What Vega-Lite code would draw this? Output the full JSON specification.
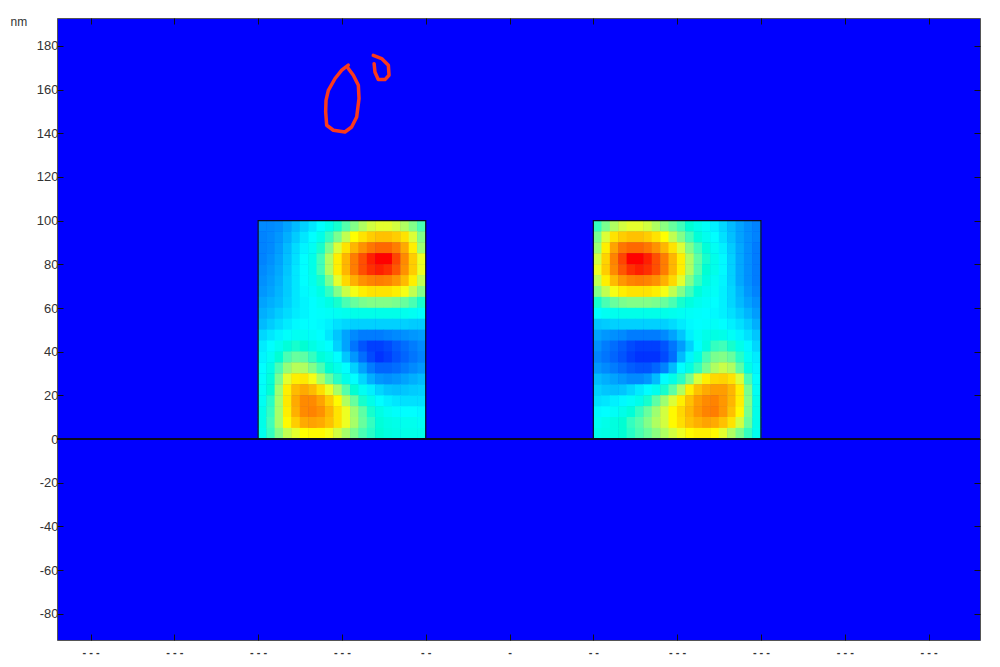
{"$schema":"https://vega.github.io/schema/vega-lite/v6.json","width":923,"height":622,"autosize":"none","padding":{"left":57,"top":18,"right":20,"bottom":27},"background":"#ffffff","view":{"fill":"#0000ff","stroke":"#555555","strokeWidth":1},"resolve":{"axis":{"x":"independent","y":"independent"}},"layer":[{"data":{"values":[
{"x":-147.5,"y":97.5,"v":12},{"x":-142.5,"y":97.5,"v":12},{"x":-137.5,"y":97.5,"v":13},{"x":-132.5,"y":97.5,"v":16},{"x":-127.5,"y":97.5,"v":20},{"x":-122.5,"y":97.5,"v":24},{"x":-117.5,"y":97.5,"v":28},{"x":-112.5,"y":97.5,"v":33},{"x":-107.5,"y":97.5,"v":38},{"x":-102.5,"y":97.5,"v":43},{"x":-97.5,"y":97.5,"v":48},{"x":-92.5,"y":97.5,"v":53},{"x":-87.5,"y":97.5,"v":58},{"x":-82.5,"y":97.5,"v":62},{"x":-77.5,"y":97.5,"v":64},{"x":-72.5,"y":97.5,"v":64},{"x":-67.5,"y":97.5,"v":62},{"x":-62.5,"y":97.5,"v":58},{"x":-57.5,"y":97.5,"v":53},{"x":-52.5,"y":97.5,"v":47},
{"x":-147.5,"y":92.5,"v":11},{"x":-142.5,"y":92.5,"v":12},{"x":-137.5,"y":92.5,"v":14},{"x":-132.5,"y":92.5,"v":18},{"x":-127.5,"y":92.5,"v":23},{"x":-122.5,"y":92.5,"v":28},{"x":-117.5,"y":92.5,"v":33},{"x":-112.5,"y":92.5,"v":38},{"x":-107.5,"y":92.5,"v":45},{"x":-102.5,"y":92.5,"v":52},{"x":-97.5,"y":92.5,"v":60},{"x":-92.5,"y":92.5,"v":67},{"x":-87.5,"y":92.5,"v":72},{"x":-82.5,"y":92.5,"v":76},{"x":-77.5,"y":92.5,"v":78},{"x":-72.5,"y":92.5,"v":78},{"x":-67.5,"y":92.5,"v":76},{"x":-62.5,"y":92.5,"v":72},{"x":-57.5,"y":92.5,"v":63},{"x":-52.5,"y":92.5,"v":53},
{"x":-147.5,"y":87.5,"v":11},{"x":-142.5,"y":87.5,"v":12},{"x":-137.5,"y":87.5,"v":15},{"x":-132.5,"y":87.5,"v":20},{"x":-127.5,"y":87.5,"v":26},{"x":-122.5,"y":87.5,"v":31},{"x":-117.5,"y":87.5,"v":36},{"x":-112.5,"y":87.5,"v":43},{"x":-107.5,"y":87.5,"v":52},{"x":-102.5,"y":87.5,"v":63},{"x":-97.5,"y":87.5,"v":72},{"x":-92.5,"y":87.5,"v":80},{"x":-87.5,"y":87.5,"v":86},{"x":-82.5,"y":87.5,"v":90},{"x":-77.5,"y":87.5,"v":92},{"x":-72.5,"y":87.5,"v":92},{"x":-67.5,"y":87.5,"v":89},{"x":-62.5,"y":87.5,"v":82},{"x":-57.5,"y":87.5,"v":70},{"x":-52.5,"y":87.5,"v":56},
{"x":-147.5,"y":82.5,"v":11},{"x":-142.5,"y":82.5,"v":13},{"x":-137.5,"y":82.5,"v":16},{"x":-132.5,"y":82.5,"v":21},{"x":-127.5,"y":82.5,"v":27},{"x":-122.5,"y":82.5,"v":33},{"x":-117.5,"y":82.5,"v":38},{"x":-112.5,"y":82.5,"v":46},{"x":-107.5,"y":82.5,"v":58},{"x":-102.5,"y":82.5,"v":70},{"x":-97.5,"y":82.5,"v":80},{"x":-92.5,"y":82.5,"v":89},{"x":-87.5,"y":82.5,"v":95},{"x":-82.5,"y":82.5,"v":99},{"x":-77.5,"y":82.5,"v":100},{"x":-72.5,"y":82.5,"v":100},{"x":-67.5,"y":82.5,"v":96},{"x":-62.5,"y":82.5,"v":87},{"x":-57.5,"y":82.5,"v":76},{"x":-52.5,"y":82.5,"v":65},
{"x":-147.5,"y":77.5,"v":12},{"x":-142.5,"y":77.5,"v":14},{"x":-137.5,"y":77.5,"v":17},{"x":-132.5,"y":77.5,"v":22},{"x":-127.5,"y":77.5,"v":28},{"x":-122.5,"y":77.5,"v":33},{"x":-117.5,"y":77.5,"v":38},{"x":-112.5,"y":77.5,"v":46},{"x":-107.5,"y":77.5,"v":58},{"x":-102.5,"y":77.5,"v":70},{"x":-97.5,"y":77.5,"v":80},{"x":-92.5,"y":77.5,"v":89},{"x":-87.5,"y":77.5,"v":95},{"x":-82.5,"y":77.5,"v":98},{"x":-77.5,"y":77.5,"v":99},{"x":-72.5,"y":77.5,"v":98},{"x":-67.5,"y":77.5,"v":94},{"x":-62.5,"y":77.5,"v":86},{"x":-57.5,"y":77.5,"v":76},{"x":-52.5,"y":77.5,"v":65},
{"x":-147.5,"y":72.5,"v":13},{"x":-142.5,"y":72.5,"v":15},{"x":-137.5,"y":72.5,"v":18},{"x":-132.5,"y":72.5,"v":23},{"x":-127.5,"y":72.5,"v":28},{"x":-122.5,"y":72.5,"v":33},{"x":-117.5,"y":72.5,"v":37},{"x":-112.5,"y":72.5,"v":43},{"x":-107.5,"y":72.5,"v":52},{"x":-102.5,"y":72.5,"v":64},{"x":-97.5,"y":72.5,"v":74},{"x":-92.5,"y":72.5,"v":81},{"x":-87.5,"y":72.5,"v":86},{"x":-82.5,"y":72.5,"v":88},{"x":-77.5,"y":72.5,"v":89},{"x":-72.5,"y":72.5,"v":88},{"x":-67.5,"y":72.5,"v":85},{"x":-62.5,"y":72.5,"v":79},{"x":-57.5,"y":72.5,"v":70},{"x":-52.5,"y":72.5,"v":60},
{"x":-147.5,"y":67.5,"v":14},{"x":-142.5,"y":67.5,"v":16},{"x":-137.5,"y":67.5,"v":19},{"x":-132.5,"y":67.5,"v":23},{"x":-127.5,"y":67.5,"v":28},{"x":-122.5,"y":67.5,"v":32},{"x":-117.5,"y":67.5,"v":35},{"x":-112.5,"y":67.5,"v":39},{"x":-107.5,"y":67.5,"v":45},{"x":-102.5,"y":67.5,"v":53},{"x":-97.5,"y":67.5,"v":61},{"x":-92.5,"y":67.5,"v":66},{"x":-87.5,"y":67.5,"v":70},{"x":-82.5,"y":67.5,"v":72},{"x":-77.5,"y":67.5,"v":72},{"x":-72.5,"y":67.5,"v":72},{"x":-67.5,"y":67.5,"v":70},{"x":-62.5,"y":67.5,"v":66},{"x":-57.5,"y":67.5,"v":60},{"x":-52.5,"y":67.5,"v":53},
{"x":-147.5,"y":62.5,"v":16},{"x":-142.5,"y":62.5,"v":18},{"x":-137.5,"y":62.5,"v":20},{"x":-132.5,"y":62.5,"v":24},{"x":-127.5,"y":62.5,"v":28},{"x":-122.5,"y":62.5,"v":31},{"x":-117.5,"y":62.5,"v":33},{"x":-112.5,"y":62.5,"v":36},{"x":-107.5,"y":62.5,"v":39},{"x":-102.5,"y":62.5,"v":43},{"x":-97.5,"y":62.5,"v":47},{"x":-92.5,"y":62.5,"v":50},{"x":-87.5,"y":62.5,"v":52},{"x":-82.5,"y":62.5,"v":53},{"x":-77.5,"y":62.5,"v":53},{"x":-72.5,"y":62.5,"v":53},{"x":-67.5,"y":62.5,"v":52},{"x":-62.5,"y":62.5,"v":50},{"x":-57.5,"y":62.5,"v":47},{"x":-52.5,"y":62.5,"v":43},
{"x":-147.5,"y":57.5,"v":18},{"x":-142.5,"y":57.5,"v":20},{"x":-137.5,"y":57.5,"v":23},{"x":-132.5,"y":57.5,"v":26},{"x":-127.5,"y":57.5,"v":29},{"x":-122.5,"y":57.5,"v":31},{"x":-117.5,"y":57.5,"v":33},{"x":-112.5,"y":57.5,"v":34},{"x":-107.5,"y":57.5,"v":35},{"x":-102.5,"y":57.5,"v":36},{"x":-97.5,"y":57.5,"v":37},{"x":-92.5,"y":57.5,"v":38},{"x":-87.5,"y":57.5,"v":38},{"x":-82.5,"y":57.5,"v":38},{"x":-77.5,"y":57.5,"v":38},{"x":-72.5,"y":57.5,"v":38},{"x":-67.5,"y":57.5,"v":38},{"x":-62.5,"y":57.5,"v":37},{"x":-57.5,"y":57.5,"v":36},{"x":-52.5,"y":57.5,"v":34},
{"x":-147.5,"y":52.5,"v":20},{"x":-142.5,"y":52.5,"v":23},{"x":-137.5,"y":52.5,"v":26},{"x":-132.5,"y":52.5,"v":29},{"x":-127.5,"y":52.5,"v":32},{"x":-122.5,"y":52.5,"v":33},{"x":-117.5,"y":52.5,"v":33},{"x":-112.5,"y":52.5,"v":32},{"x":-107.5,"y":52.5,"v":30},{"x":-102.5,"y":52.5,"v":27},{"x":-97.5,"y":52.5,"v":25},{"x":-92.5,"y":52.5,"v":24},{"x":-87.5,"y":52.5,"v":24},{"x":-82.5,"y":52.5,"v":24},{"x":-77.5,"y":52.5,"v":24},{"x":-72.5,"y":52.5,"v":24},{"x":-67.5,"y":52.5,"v":24},{"x":-62.5,"y":52.5,"v":24},{"x":-57.5,"y":52.5,"v":23},{"x":-52.5,"y":52.5,"v":23},
{"x":-147.5,"y":47.5,"v":25},{"x":-142.5,"y":47.5,"v":28},{"x":-137.5,"y":47.5,"v":31},{"x":-132.5,"y":47.5,"v":34},{"x":-127.5,"y":47.5,"v":36},{"x":-122.5,"y":47.5,"v":36},{"x":-117.5,"y":47.5,"v":35},{"x":-112.5,"y":47.5,"v":33},{"x":-107.5,"y":47.5,"v":28},{"x":-102.5,"y":47.5,"v":22},{"x":-97.5,"y":47.5,"v":16},{"x":-92.5,"y":47.5,"v":12},{"x":-87.5,"y":47.5,"v":10},{"x":-82.5,"y":47.5,"v":10},{"x":-77.5,"y":47.5,"v":10},{"x":-72.5,"y":47.5,"v":11},{"x":-67.5,"y":47.5,"v":12},{"x":-62.5,"y":47.5,"v":13},{"x":-57.5,"y":47.5,"v":14},{"x":-52.5,"y":47.5,"v":15},
{"x":-147.5,"y":42.5,"v":29},{"x":-142.5,"y":42.5,"v":33},{"x":-137.5,"y":42.5,"v":37},{"x":-132.5,"y":42.5,"v":41},{"x":-127.5,"y":42.5,"v":43},{"x":-122.5,"y":42.5,"v":42},{"x":-117.5,"y":42.5,"v":39},{"x":-112.5,"y":42.5,"v":36},{"x":-107.5,"y":42.5,"v":33},{"x":-102.5,"y":42.5,"v":24},{"x":-97.5,"y":42.5,"v":16},{"x":-92.5,"y":42.5,"v":9},{"x":-87.5,"y":42.5,"v":5},{"x":-82.5,"y":42.5,"v":3},{"x":-77.5,"y":42.5,"v":3},{"x":-72.5,"y":42.5,"v":4},{"x":-67.5,"y":42.5,"v":6},{"x":-62.5,"y":42.5,"v":8},{"x":-57.5,"y":42.5,"v":10},{"x":-52.5,"y":42.5,"v":12},
{"x":-147.5,"y":37.5,"v":31},{"x":-142.5,"y":37.5,"v":36},{"x":-137.5,"y":37.5,"v":42},{"x":-132.5,"y":37.5,"v":47},{"x":-127.5,"y":37.5,"v":50},{"x":-122.5,"y":37.5,"v":49},{"x":-117.5,"y":37.5,"v":45},{"x":-112.5,"y":37.5,"v":41},{"x":-107.5,"y":37.5,"v":38},{"x":-102.5,"y":37.5,"v":33},{"x":-97.5,"y":37.5,"v":22},{"x":-92.5,"y":37.5,"v":14},{"x":-87.5,"y":37.5,"v":8},{"x":-82.5,"y":37.5,"v":4},{"x":-77.5,"y":37.5,"v":2},{"x":-72.5,"y":37.5,"v":3},{"x":-67.5,"y":37.5,"v":5},{"x":-62.5,"y":37.5,"v":7},{"x":-57.5,"y":37.5,"v":9},{"x":-52.5,"y":37.5,"v":11},
{"x":-147.5,"y":32.5,"v":33},{"x":-142.5,"y":32.5,"v":39},{"x":-137.5,"y":32.5,"v":47},{"x":-132.5,"y":32.5,"v":55},{"x":-127.5,"y":32.5,"v":59},{"x":-122.5,"y":32.5,"v":58},{"x":-117.5,"y":32.5,"v":53},{"x":-112.5,"y":32.5,"v":47},{"x":-107.5,"y":32.5,"v":42},{"x":-102.5,"y":32.5,"v":38},{"x":-97.5,"y":32.5,"v":33},{"x":-92.5,"y":32.5,"v":24},{"x":-87.5,"y":32.5,"v":16},{"x":-82.5,"y":32.5,"v":10},{"x":-77.5,"y":32.5,"v":7},{"x":-72.5,"y":32.5,"v":7},{"x":-67.5,"y":32.5,"v":8},{"x":-62.5,"y":32.5,"v":10},{"x":-57.5,"y":32.5,"v":12},{"x":-52.5,"y":32.5,"v":14},
{"x":-147.5,"y":27.5,"v":34},{"x":-142.5,"y":27.5,"v":41},{"x":-137.5,"y":27.5,"v":52},{"x":-132.5,"y":27.5,"v":64},{"x":-127.5,"y":27.5,"v":70},{"x":-122.5,"y":27.5,"v":71},{"x":-117.5,"y":27.5,"v":66},{"x":-112.5,"y":27.5,"v":58},{"x":-107.5,"y":27.5,"v":50},{"x":-102.5,"y":27.5,"v":44},{"x":-97.5,"y":27.5,"v":38},{"x":-92.5,"y":27.5,"v":33},{"x":-87.5,"y":27.5,"v":25},{"x":-82.5,"y":27.5,"v":18},{"x":-77.5,"y":27.5,"v":14},{"x":-72.5,"y":27.5,"v":13},{"x":-67.5,"y":27.5,"v":14},{"x":-62.5,"y":27.5,"v":16},{"x":-57.5,"y":27.5,"v":18},{"x":-52.5,"y":27.5,"v":20},
{"x":-147.5,"y":22.5,"v":35},{"x":-142.5,"y":22.5,"v":42},{"x":-137.5,"y":22.5,"v":56},{"x":-132.5,"y":22.5,"v":70},{"x":-127.5,"y":22.5,"v":79},{"x":-122.5,"y":22.5,"v":82},{"x":-117.5,"y":22.5,"v":79},{"x":-112.5,"y":22.5,"v":73},{"x":-107.5,"y":22.5,"v":65},{"x":-102.5,"y":22.5,"v":57},{"x":-97.5,"y":22.5,"v":48},{"x":-92.5,"y":22.5,"v":42},{"x":-87.5,"y":22.5,"v":36},{"x":-82.5,"y":22.5,"v":30},{"x":-77.5,"y":22.5,"v":25},{"x":-72.5,"y":22.5,"v":22},{"x":-67.5,"y":22.5,"v":21},{"x":-62.5,"y":22.5,"v":22},{"x":-57.5,"y":22.5,"v":23},{"x":-52.5,"y":22.5,"v":24},
{"x":-147.5,"y":17.5,"v":36},{"x":-142.5,"y":17.5,"v":44},{"x":-137.5,"y":17.5,"v":57},{"x":-132.5,"y":17.5,"v":71},{"x":-127.5,"y":17.5,"v":82},{"x":-122.5,"y":17.5,"v":87},{"x":-117.5,"y":17.5,"v":87},{"x":-112.5,"y":17.5,"v":83},{"x":-107.5,"y":17.5,"v":76},{"x":-102.5,"y":17.5,"v":68},{"x":-97.5,"y":17.5,"v":58},{"x":-92.5,"y":17.5,"v":50},{"x":-87.5,"y":17.5,"v":43},{"x":-82.5,"y":17.5,"v":38},{"x":-77.5,"y":17.5,"v":33},{"x":-72.5,"y":17.5,"v":30},{"x":-67.5,"y":17.5,"v":28},{"x":-62.5,"y":17.5,"v":27},{"x":-57.5,"y":17.5,"v":27},{"x":-52.5,"y":17.5,"v":27},
{"x":-147.5,"y":12.5,"v":38},{"x":-142.5,"y":12.5,"v":45},{"x":-137.5,"y":12.5,"v":57},{"x":-132.5,"y":12.5,"v":70},{"x":-127.5,"y":12.5,"v":81},{"x":-122.5,"y":12.5,"v":87},{"x":-117.5,"y":12.5,"v":88},{"x":-112.5,"y":12.5,"v":86},{"x":-107.5,"y":12.5,"v":80},{"x":-102.5,"y":12.5,"v":72},{"x":-97.5,"y":12.5,"v":65},{"x":-92.5,"y":12.5,"v":56},{"x":-87.5,"y":12.5,"v":49},{"x":-82.5,"y":12.5,"v":43},{"x":-77.5,"y":12.5,"v":39},{"x":-72.5,"y":12.5,"v":36},{"x":-67.5,"y":12.5,"v":34},{"x":-62.5,"y":12.5,"v":33},{"x":-57.5,"y":12.5,"v":33},{"x":-52.5,"y":12.5,"v":32},
{"x":-147.5,"y":7.5,"v":38},{"x":-142.5,"y":7.5,"v":46},{"x":-137.5,"y":7.5,"v":57},{"x":-132.5,"y":7.5,"v":68},{"x":-127.5,"y":7.5,"v":76},{"x":-122.5,"y":7.5,"v":82},{"x":-117.5,"y":7.5,"v":83},{"x":-112.5,"y":7.5,"v":82},{"x":-107.5,"y":7.5,"v":78},{"x":-102.5,"y":7.5,"v":72},{"x":-97.5,"y":7.5,"v":65},{"x":-92.5,"y":7.5,"v":57},{"x":-87.5,"y":7.5,"v":50},{"x":-82.5,"y":7.5,"v":45},{"x":-77.5,"y":7.5,"v":41},{"x":-72.5,"y":7.5,"v":39},{"x":-67.5,"y":7.5,"v":38},{"x":-62.5,"y":7.5,"v":37},{"x":-57.5,"y":7.5,"v":37},{"x":-52.5,"y":7.5,"v":36},
{"x":-147.5,"y":2.5,"v":37},{"x":-142.5,"y":2.5,"v":45},{"x":-137.5,"y":2.5,"v":53},{"x":-132.5,"y":2.5,"v":60},{"x":-127.5,"y":2.5,"v":64},{"x":-122.5,"y":2.5,"v":67},{"x":-117.5,"y":2.5,"v":68},{"x":-112.5,"y":2.5,"v":68},{"x":-107.5,"y":2.5,"v":66},{"x":-102.5,"y":2.5,"v":62},{"x":-97.5,"y":2.5,"v":57},{"x":-92.5,"y":2.5,"v":52},{"x":-87.5,"y":2.5,"v":47},{"x":-82.5,"y":2.5,"v":44},{"x":-77.5,"y":2.5,"v":42},{"x":-72.5,"y":2.5,"v":40},{"x":-67.5,"y":2.5,"v":39},{"x":-62.5,"y":2.5,"v":38},{"x":-57.5,"y":2.5,"v":38},{"x":-52.5,"y":2.5,"v":38},
{"x":52.5,"y":97.5,"v":45},{"x":57.5,"y":97.5,"v":52},{"x":62.5,"y":97.5,"v":58},{"x":67.5,"y":97.5,"v":62},{"x":72.5,"y":97.5,"v":64},{"x":77.5,"y":97.5,"v":64},{"x":82.5,"y":97.5,"v":62},{"x":87.5,"y":97.5,"v":58},{"x":92.5,"y":97.5,"v":54},{"x":97.5,"y":97.5,"v":50},{"x":102.5,"y":97.5,"v":46},{"x":107.5,"y":97.5,"v":42},{"x":112.5,"y":97.5,"v":38},{"x":117.5,"y":97.5,"v":35},{"x":122.5,"y":97.5,"v":30},{"x":127.5,"y":97.5,"v":25},{"x":132.5,"y":97.5,"v":20},{"x":137.5,"y":97.5,"v":16},{"x":142.5,"y":97.5,"v":13},{"x":147.5,"y":97.5,"v":11},
{"x":52.5,"y":92.5,"v":52},{"x":57.5,"y":92.5,"v":63},{"x":62.5,"y":92.5,"v":72},{"x":67.5,"y":92.5,"v":76},{"x":72.5,"y":92.5,"v":78},{"x":77.5,"y":92.5,"v":78},{"x":82.5,"y":92.5,"v":76},{"x":87.5,"y":92.5,"v":72},{"x":92.5,"y":92.5,"v":67},{"x":97.5,"y":92.5,"v":60},{"x":102.5,"y":92.5,"v":53},{"x":107.5,"y":92.5,"v":46},{"x":112.5,"y":92.5,"v":41},{"x":117.5,"y":92.5,"v":37},{"x":122.5,"y":92.5,"v":33},{"x":127.5,"y":92.5,"v":27},{"x":132.5,"y":92.5,"v":21},{"x":137.5,"y":92.5,"v":16},{"x":142.5,"y":92.5,"v":13},{"x":147.5,"y":92.5,"v":11},
{"x":52.5,"y":87.5,"v":56},{"x":57.5,"y":87.5,"v":70},{"x":62.5,"y":87.5,"v":83},{"x":67.5,"y":87.5,"v":90},{"x":72.5,"y":87.5,"v":92},{"x":77.5,"y":87.5,"v":92},{"x":82.5,"y":87.5,"v":90},{"x":87.5,"y":87.5,"v":86},{"x":92.5,"y":87.5,"v":80},{"x":97.5,"y":87.5,"v":72},{"x":102.5,"y":87.5,"v":63},{"x":107.5,"y":87.5,"v":53},{"x":112.5,"y":87.5,"v":46},{"x":117.5,"y":87.5,"v":41},{"x":122.5,"y":87.5,"v":36},{"x":127.5,"y":87.5,"v":30},{"x":132.5,"y":87.5,"v":23},{"x":137.5,"y":87.5,"v":17},{"x":142.5,"y":87.5,"v":13},{"x":147.5,"y":87.5,"v":10},
{"x":52.5,"y":82.5,"v":62},{"x":57.5,"y":82.5,"v":75},{"x":62.5,"y":82.5,"v":88},{"x":67.5,"y":82.5,"v":96},{"x":72.5,"y":82.5,"v":100},{"x":77.5,"y":82.5,"v":100},{"x":82.5,"y":82.5,"v":99},{"x":87.5,"y":82.5,"v":95},{"x":92.5,"y":82.5,"v":89},{"x":97.5,"y":82.5,"v":80},{"x":102.5,"y":82.5,"v":70},{"x":107.5,"y":82.5,"v":58},{"x":112.5,"y":82.5,"v":49},{"x":117.5,"y":82.5,"v":43},{"x":122.5,"y":82.5,"v":38},{"x":127.5,"y":82.5,"v":32},{"x":132.5,"y":82.5,"v":24},{"x":137.5,"y":82.5,"v":17},{"x":142.5,"y":82.5,"v":13},{"x":147.5,"y":82.5,"v":10},
{"x":52.5,"y":77.5,"v":65},{"x":57.5,"y":77.5,"v":76},{"x":62.5,"y":77.5,"v":87},{"x":67.5,"y":77.5,"v":94},{"x":72.5,"y":77.5,"v":98},{"x":77.5,"y":77.5,"v":99},{"x":82.5,"y":77.5,"v":98},{"x":87.5,"y":77.5,"v":95},{"x":92.5,"y":77.5,"v":89},{"x":97.5,"y":77.5,"v":80},{"x":102.5,"y":77.5,"v":70},{"x":107.5,"y":77.5,"v":58},{"x":112.5,"y":77.5,"v":48},{"x":117.5,"y":77.5,"v":42},{"x":122.5,"y":77.5,"v":38},{"x":127.5,"y":77.5,"v":32},{"x":132.5,"y":77.5,"v":24},{"x":137.5,"y":77.5,"v":17},{"x":142.5,"y":77.5,"v":13},{"x":147.5,"y":77.5,"v":10},
{"x":52.5,"y":72.5,"v":60},{"x":57.5,"y":72.5,"v":70},{"x":62.5,"y":72.5,"v":79},{"x":67.5,"y":72.5,"v":85},{"x":72.5,"y":72.5,"v":88},{"x":77.5,"y":72.5,"v":89},{"x":82.5,"y":72.5,"v":88},{"x":87.5,"y":72.5,"v":86},{"x":92.5,"y":72.5,"v":81},{"x":97.5,"y":72.5,"v":74},{"x":102.5,"y":72.5,"v":64},{"x":107.5,"y":72.5,"v":53},{"x":112.5,"y":72.5,"v":45},{"x":117.5,"y":72.5,"v":40},{"x":122.5,"y":72.5,"v":36},{"x":127.5,"y":72.5,"v":31},{"x":132.5,"y":72.5,"v":24},{"x":137.5,"y":72.5,"v":17},{"x":142.5,"y":72.5,"v":13},{"x":147.5,"y":72.5,"v":10},
{"x":52.5,"y":67.5,"v":53},{"x":57.5,"y":67.5,"v":60},{"x":62.5,"y":67.5,"v":66},{"x":67.5,"y":67.5,"v":70},{"x":72.5,"y":67.5,"v":72},{"x":77.5,"y":67.5,"v":72},{"x":82.5,"y":67.5,"v":72},{"x":87.5,"y":67.5,"v":70},{"x":92.5,"y":67.5,"v":66},{"x":97.5,"y":67.5,"v":60},{"x":102.5,"y":67.5,"v":53},{"x":107.5,"y":67.5,"v":46},{"x":112.5,"y":67.5,"v":41},{"x":117.5,"y":67.5,"v":37},{"x":122.5,"y":67.5,"v":35},{"x":127.5,"y":67.5,"v":30},{"x":132.5,"y":67.5,"v":25},{"x":137.5,"y":67.5,"v":19},{"x":142.5,"y":67.5,"v":14},{"x":147.5,"y":67.5,"v":11},
{"x":52.5,"y":62.5,"v":43},{"x":57.5,"y":62.5,"v":47},{"x":62.5,"y":62.5,"v":50},{"x":67.5,"y":62.5,"v":52},{"x":72.5,"y":62.5,"v":53},{"x":77.5,"y":62.5,"v":53},{"x":82.5,"y":62.5,"v":53},{"x":87.5,"y":62.5,"v":52},{"x":92.5,"y":62.5,"v":50},{"x":97.5,"y":62.5,"v":47},{"x":102.5,"y":62.5,"v":43},{"x":107.5,"y":62.5,"v":40},{"x":112.5,"y":62.5,"v":37},{"x":117.5,"y":62.5,"v":35},{"x":122.5,"y":62.5,"v":33},{"x":127.5,"y":62.5,"v":30},{"x":132.5,"y":62.5,"v":25},{"x":137.5,"y":62.5,"v":20},{"x":142.5,"y":62.5,"v":16},{"x":147.5,"y":62.5,"v":13},
{"x":52.5,"y":57.5,"v":33},{"x":57.5,"y":57.5,"v":36},{"x":62.5,"y":57.5,"v":37},{"x":67.5,"y":57.5,"v":38},{"x":72.5,"y":57.5,"v":38},{"x":77.5,"y":57.5,"v":38},{"x":82.5,"y":57.5,"v":38},{"x":87.5,"y":57.5,"v":38},{"x":92.5,"y":57.5,"v":38},{"x":97.5,"y":57.5,"v":37},{"x":102.5,"y":57.5,"v":36},{"x":107.5,"y":57.5,"v":35},{"x":112.5,"y":57.5,"v":34},{"x":117.5,"y":57.5,"v":33},{"x":122.5,"y":57.5,"v":32},{"x":127.5,"y":57.5,"v":30},{"x":132.5,"y":57.5,"v":27},{"x":137.5,"y":57.5,"v":23},{"x":142.5,"y":57.5,"v":19},{"x":147.5,"y":57.5,"v":15},
{"x":52.5,"y":52.5,"v":22},{"x":57.5,"y":52.5,"v":23},{"x":62.5,"y":52.5,"v":24},{"x":67.5,"y":52.5,"v":24},{"x":72.5,"y":52.5,"v":24},{"x":77.5,"y":52.5,"v":24},{"x":82.5,"y":52.5,"v":24},{"x":87.5,"y":52.5,"v":24},{"x":92.5,"y":52.5,"v":24},{"x":97.5,"y":52.5,"v":26},{"x":102.5,"y":52.5,"v":29},{"x":107.5,"y":52.5,"v":32},{"x":112.5,"y":52.5,"v":33},{"x":117.5,"y":52.5,"v":34},{"x":122.5,"y":52.5,"v":35},{"x":127.5,"y":52.5,"v":33},{"x":132.5,"y":52.5,"v":30},{"x":137.5,"y":52.5,"v":27},{"x":142.5,"y":52.5,"v":23},{"x":147.5,"y":52.5,"v":18},
{"x":52.5,"y":47.5,"v":16},{"x":57.5,"y":47.5,"v":14},{"x":62.5,"y":47.5,"v":13},{"x":67.5,"y":47.5,"v":12},{"x":72.5,"y":47.5,"v":10},{"x":77.5,"y":47.5,"v":10},{"x":82.5,"y":47.5,"v":10},{"x":87.5,"y":47.5,"v":10},{"x":92.5,"y":47.5,"v":12},{"x":97.5,"y":47.5,"v":16},{"x":102.5,"y":47.5,"v":22},{"x":107.5,"y":47.5,"v":30},{"x":112.5,"y":47.5,"v":35},{"x":117.5,"y":47.5,"v":38},{"x":122.5,"y":47.5,"v":39},{"x":127.5,"y":47.5,"v":38},{"x":132.5,"y":47.5,"v":35},{"x":137.5,"y":47.5,"v":31},{"x":142.5,"y":47.5,"v":27},{"x":147.5,"y":47.5,"v":22},
{"x":52.5,"y":42.5,"v":13},{"x":57.5,"y":42.5,"v":10},{"x":62.5,"y":42.5,"v":8},{"x":67.5,"y":42.5,"v":6},{"x":72.5,"y":42.5,"v":4},{"x":77.5,"y":42.5,"v":3},{"x":82.5,"y":42.5,"v":3},{"x":87.5,"y":42.5,"v":3},{"x":92.5,"y":42.5,"v":5},{"x":97.5,"y":42.5,"v":9},{"x":102.5,"y":42.5,"v":15},{"x":107.5,"y":42.5,"v":24},{"x":112.5,"y":42.5,"v":33},{"x":117.5,"y":42.5,"v":40},{"x":122.5,"y":42.5,"v":45},{"x":127.5,"y":42.5,"v":46},{"x":132.5,"y":42.5,"v":43},{"x":137.5,"y":42.5,"v":38},{"x":142.5,"y":42.5,"v":32},{"x":147.5,"y":42.5,"v":25},
{"x":52.5,"y":37.5,"v":11},{"x":57.5,"y":37.5,"v":9},{"x":62.5,"y":37.5,"v":7},{"x":67.5,"y":37.5,"v":5},{"x":72.5,"y":37.5,"v":3},{"x":77.5,"y":37.5,"v":2},{"x":82.5,"y":37.5,"v":2},{"x":87.5,"y":37.5,"v":2},{"x":92.5,"y":37.5,"v":4},{"x":97.5,"y":37.5,"v":8},{"x":102.5,"y":37.5,"v":20},{"x":107.5,"y":37.5,"v":31},{"x":112.5,"y":37.5,"v":39},{"x":117.5,"y":37.5,"v":47},{"x":122.5,"y":37.5,"v":52},{"x":127.5,"y":37.5,"v":53},{"x":132.5,"y":37.5,"v":50},{"x":137.5,"y":37.5,"v":44},{"x":142.5,"y":37.5,"v":36},{"x":147.5,"y":37.5,"v":29},
{"x":52.5,"y":32.5,"v":14},{"x":57.5,"y":32.5,"v":12},{"x":62.5,"y":32.5,"v":10},{"x":67.5,"y":32.5,"v":8},{"x":72.5,"y":32.5,"v":6},{"x":77.5,"y":32.5,"v":5},{"x":82.5,"y":32.5,"v":5},{"x":87.5,"y":32.5,"v":7},{"x":92.5,"y":32.5,"v":11},{"x":97.5,"y":32.5,"v":20},{"x":102.5,"y":32.5,"v":33},{"x":107.5,"y":32.5,"v":39},{"x":112.5,"y":32.5,"v":45},{"x":117.5,"y":32.5,"v":52},{"x":122.5,"y":32.5,"v":58},{"x":127.5,"y":32.5,"v":61},{"x":132.5,"y":32.5,"v":58},{"x":137.5,"y":32.5,"v":49},{"x":142.5,"y":32.5,"v":39},{"x":147.5,"y":32.5,"v":31},
{"x":52.5,"y":27.5,"v":20},{"x":57.5,"y":27.5,"v":18},{"x":62.5,"y":27.5,"v":16},{"x":67.5,"y":27.5,"v":14},{"x":72.5,"y":27.5,"v":12},{"x":77.5,"y":27.5,"v":12},{"x":82.5,"y":27.5,"v":14},{"x":87.5,"y":27.5,"v":20},{"x":92.5,"y":27.5,"v":33},{"x":97.5,"y":27.5,"v":38},{"x":102.5,"y":27.5,"v":44},{"x":107.5,"y":27.5,"v":52},{"x":112.5,"y":27.5,"v":63},{"x":117.5,"y":27.5,"v":70},{"x":122.5,"y":27.5,"v":74},{"x":127.5,"y":27.5,"v":75},{"x":132.5,"y":27.5,"v":72},{"x":137.5,"y":27.5,"v":63},{"x":142.5,"y":27.5,"v":47},{"x":147.5,"y":27.5,"v":34},
{"x":52.5,"y":22.5,"v":24},{"x":57.5,"y":22.5,"v":22},{"x":62.5,"y":22.5,"v":21},{"x":67.5,"y":22.5,"v":22},{"x":72.5,"y":22.5,"v":25},{"x":77.5,"y":22.5,"v":29},{"x":82.5,"y":22.5,"v":33},{"x":87.5,"y":22.5,"v":37},{"x":92.5,"y":22.5,"v":43},{"x":97.5,"y":22.5,"v":49},{"x":102.5,"y":22.5,"v":58},{"x":107.5,"y":22.5,"v":70},{"x":112.5,"y":22.5,"v":78},{"x":117.5,"y":22.5,"v":82},{"x":122.5,"y":22.5,"v":84},{"x":127.5,"y":22.5,"v":84},{"x":132.5,"y":22.5,"v":80},{"x":137.5,"y":22.5,"v":70},{"x":142.5,"y":22.5,"v":52},{"x":147.5,"y":22.5,"v":36},
{"x":52.5,"y":17.5,"v":27},{"x":57.5,"y":17.5,"v":28},{"x":62.5,"y":17.5,"v":30},{"x":67.5,"y":17.5,"v":32},{"x":72.5,"y":17.5,"v":35},{"x":77.5,"y":17.5,"v":38},{"x":82.5,"y":17.5,"v":43},{"x":87.5,"y":17.5,"v":49},{"x":92.5,"y":17.5,"v":56},{"x":97.5,"y":17.5,"v":63},{"x":102.5,"y":17.5,"v":70},{"x":107.5,"y":17.5,"v":78},{"x":112.5,"y":17.5,"v":84},{"x":117.5,"y":17.5,"v":87},{"x":122.5,"y":17.5,"v":88},{"x":127.5,"y":17.5,"v":85},{"x":132.5,"y":17.5,"v":80},{"x":137.5,"y":17.5,"v":70},{"x":142.5,"y":17.5,"v":53},{"x":147.5,"y":17.5,"v":38},
{"x":52.5,"y":12.5,"v":32},{"x":57.5,"y":12.5,"v":33},{"x":62.5,"y":12.5,"v":35},{"x":67.5,"y":12.5,"v":38},{"x":72.5,"y":12.5,"v":41},{"x":77.5,"y":12.5,"v":45},{"x":82.5,"y":12.5,"v":50},{"x":87.5,"y":12.5,"v":56},{"x":92.5,"y":12.5,"v":62},{"x":97.5,"y":12.5,"v":68},{"x":102.5,"y":12.5,"v":74},{"x":107.5,"y":12.5,"v":80},{"x":112.5,"y":12.5,"v":85},{"x":117.5,"y":12.5,"v":88},{"x":122.5,"y":12.5,"v":89},{"x":127.5,"y":12.5,"v":85},{"x":132.5,"y":12.5,"v":78},{"x":137.5,"y":12.5,"v":68},{"x":142.5,"y":12.5,"v":52},{"x":147.5,"y":12.5,"v":38},
{"x":52.5,"y":7.5,"v":36},{"x":57.5,"y":7.5,"v":38},{"x":62.5,"y":7.5,"v":40},{"x":67.5,"y":7.5,"v":42},{"x":72.5,"y":7.5,"v":45},{"x":77.5,"y":7.5,"v":48},{"x":82.5,"y":7.5,"v":53},{"x":87.5,"y":7.5,"v":58},{"x":92.5,"y":7.5,"v":62},{"x":97.5,"y":7.5,"v":68},{"x":102.5,"y":7.5,"v":73},{"x":107.5,"y":7.5,"v":78},{"x":112.5,"y":7.5,"v":81},{"x":117.5,"y":7.5,"v":83},{"x":122.5,"y":7.5,"v":82},{"x":127.5,"y":7.5,"v":78},{"x":132.5,"y":7.5,"v":72},{"x":137.5,"y":7.5,"v":62},{"x":142.5,"y":7.5,"v":50},{"x":147.5,"y":7.5,"v":38},
{"x":52.5,"y":2.5,"v":38},{"x":57.5,"y":2.5,"v":39},{"x":62.5,"y":2.5,"v":40},{"x":67.5,"y":2.5,"v":42},{"x":72.5,"y":2.5,"v":44},{"x":77.5,"y":2.5,"v":47},{"x":82.5,"y":2.5,"v":50},{"x":87.5,"y":2.5,"v":54},{"x":92.5,"y":2.5,"v":58},{"x":97.5,"y":2.5,"v":62},{"x":102.5,"y":2.5,"v":65},{"x":107.5,"y":2.5,"v":68},{"x":112.5,"y":2.5,"v":70},{"x":117.5,"y":2.5,"v":70},{"x":122.5,"y":2.5,"v":68},{"x":127.5,"y":2.5,"v":64},{"x":132.5,"y":2.5,"v":58},{"x":137.5,"y":2.5,"v":52},{"x":142.5,"y":2.5,"v":45},{"x":147.5,"y":2.5,"v":37}
]},"mark":{"type":"rect","width":8.9,"height":11.4},"encoding":{"x":{"field":"x","type":"quantitative","scale":{"domain":[-270,280.7],"nice":false,"zero":false},"axis":{"values":[-250,-200,-150,-100,-50,0,50,100,150,200,250],"title":null,"grid":false,"domain":false,"tickSize":-6,"tickColor":"#111111","tickWidth":1,"labelPadding":12,"labelFontSize":11,"labelFontWeight":"bold","labelFont":"Liberation Sans","labelColor":"#333333","labelExpr":"datum.value==0?'-':(abs(datum.value)==50?'- -':'- - -')"}},"y":{"field":"y","type":"quantitative","scale":{"domain":[-92,192.8],"nice":false,"zero":false},"axis":{"values":[-80,-60,-40,-20,0,20,40,60,80,100,120,140,160,180],"title":"nm","titleAngle":0,"titleAlign":"left","titleBaseline":"middle","titleX":-47,"titleY":3,"titleFontSize":12,"titleFontWeight":"normal","titleFont":"Liberation Sans","titleColor":"#333333","grid":false,"domain":false,"tickSize":-6,"tickColor":"#111111","tickWidth":1,"labelPadding":5,"labelFontSize":13,"labelFont":"Liberation Sans","labelColor":"#333333","labelExpr":"''+datum.value"}},"color":{"field":"v","type":"quantitative","legend":null,"scale":{"domain":[0,33,67,100],"range":["#0000ff","#00ffff","#ffff00","#ff0000"]}}}},{"data":{"values":[{"a":-150,"b":-50,"lo":0,"hi":100},{"a":50,"b":150,"lo":0,"hi":100}]},"mark":{"type":"rect","fillOpacity":0,"stroke":"#0a0a20","strokeWidth":1.2},"encoding":{"x":{"field":"a","type":"quantitative","axis":{"orient":"top","values":[-250,-200,-150,-100,-50,0,50,100,150,200,250],"title":null,"grid":false,"domain":false,"labels":false,"tickSize":-6,"tickColor":"#111111","tickWidth":1}},"x2":{"field":"b"},"y":{"field":"lo","type":"quantitative","axis":{"orient":"right","values":[-80,-60,-40,-20,0,20,40,60,80,100,120,140,160,180],"title":null,"grid":false,"domain":false,"labels":false,"tickSize":-6,"tickColor":"#111111","tickWidth":1}},"y2":{"field":"hi"}}},{"data":{"values":[{"y":0}]},"mark":{"type":"rule","color":"#0a0a20","strokeWidth":2},"encoding":{"y":{"field":"y","type":"quantitative","axis":null}}},{"data":{"values":[{"i":1,"s":"a","x":-96.2,"y":171.2},{"i":2,"s":"a","x":-100.1,"y":168.9},{"i":3,"s":"a","x":-104.1,"y":165.1},{"i":4,"s":"a","x":-108.1,"y":159.7},{"i":5,"s":"a","x":-109.5,"y":155.1},{"i":6,"s":"a","x":-109.7,"y":149.8},{"i":7,"s":"a","x":-109.1,"y":143.7},{"i":8,"s":"a","x":-105.1,"y":141.4},{"i":9,"s":"a","x":-98.2,"y":140.6},{"i":10,"s":"a","x":-94.2,"y":142.9},{"i":11,"s":"a","x":-91.2,"y":147.5},{"i":12,"s":"a","x":-89.8,"y":155.9},{"i":13,"s":"a","x":-90.2,"y":162},{"i":14,"s":"a","x":-93.2,"y":166.6},{"i":15,"s":"a","x":-96.2,"y":169.7},{"i":16,"s":"b","x":-81.3,"y":175.7},{"i":17,"s":"b","x":-76.3,"y":174.2},{"i":18,"s":"b","x":-72.3,"y":171.2},{"i":19,"s":"b","x":-71.9,"y":166.6},{"i":20,"s":"b","x":-74.3,"y":164.6},{"i":21,"s":"b","x":-78.3,"y":164.6},{"i":22,"s":"b","x":-80.3,"y":168.1},{"i":23,"s":"b","x":-80.8,"y":171.9}]},"mark":{"type":"line","color":"#fa3a1c","strokeWidth":3.5,"strokeCap":"round","strokeJoin":"round"},"encoding":{"x":{"field":"x","type":"quantitative","axis":null},"y":{"field":"y","type":"quantitative","axis":null},"detail":{"field":"s"},"order":{"field":"i"}}}]}
